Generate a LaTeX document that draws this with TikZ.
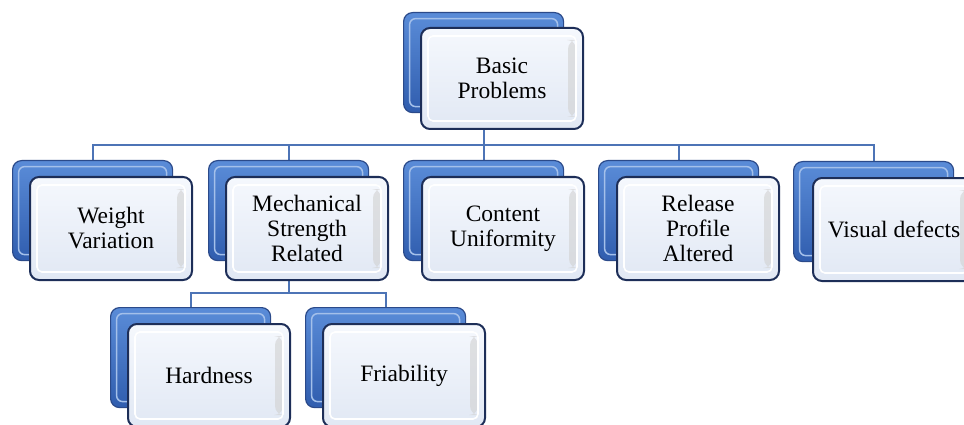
\documentclass[tikz,border=0pt]{standalone}
\usepackage{fontspec}
\setmainfont{Liberation Serif}
\usetikzlibrary{calc}
\pgfdeclarelayer{bg}
\pgfsetlayers{bg,main}
\definecolor{backtop}{HTML}{5A8CD8}
\definecolor{backbot}{HTML}{305DAE}
\definecolor{backline}{HTML}{2B4A8A}
\definecolor{fronttop}{HTML}{F5F8FD}
\definecolor{frontbot}{HTML}{E1E8F4}
\definecolor{frontline}{HTML}{1D2E58}
\definecolor{wire}{HTML}{4D74B6}
\begin{document}
\begin{tikzpicture}[x=1pt,y=-1pt,
  backbox/.style={anchor=north west, minimum width=160pt, minimum height=100pt,
    inner sep=0pt, rounded corners=9pt, draw=backline, line width=1.2pt,
    top color=backtop, bottom color=backbot,
    path picture={\draw[color=white!45!backtop, line width=1.5pt, rounded corners=6pt]
      ([shift={(6pt,-6pt)}]path picture bounding box.north west) rectangle
      ([shift={(-6pt,6pt)}]path picture bounding box.south east);}},
  frontbox/.style={anchor=north west, minimum width=162pt, minimum height=103pt,
    inner sep=2pt, rounded corners=9pt, draw=frontline, line width=2pt,
    top color=fronttop, bottom color=frontbot, align=center,
    font=\fontsize{23.5pt}{25pt}\selectfont,
    path picture={
      \fill[color=black!18, opacity=0.6]
        ([shift={(-15pt,-12pt)}]path picture bounding box.north east) rectangle
        ([shift={(-7pt,12pt)}]path picture bounding box.south east);
      \draw[color=white, line width=1.6pt, rounded corners=5pt]
        ([shift={(7pt,-8pt)}]path picture bounding box.north west) rectangle
        ([shift={(-7pt,8pt)}]path picture bounding box.south east);}},
  wireline/.style={draw=wire, line width=2pt}
]
\useasboundingbox (0,0) rectangle (964,425);

% top
\node[backbox] (topb) at (403,12) {};
\node[frontbox, minimum height=101pt] (top) at (420,27) {Basic\\Problems};

% row 1
\node[backbox] (wb) at (12,160) {};
\node[frontbox] (w) at (29,176) {Weight\\Variation};
\node[backbox] (mb) at (208,160) {};
\node[frontbox] (m) at (225,176) {Mechanical\\Strength\\Related};
\node[backbox] (cb) at (403,160) {};
\node[frontbox] (c) at (421,176) {Content\\Uniformity};
\node[backbox] (rb) at (598,160) {};
\node[frontbox] (r) at (616,176) {Release\\Profile\\Altered};
\node[backbox] (vb) at (793,161) {};
\node[frontbox] (v) at (812,177) {Visual defects};

% row 2
\node[backbox] (hb) at (110,307) {};
\node[frontbox] (h) at (127,323) {Hardness};
\node[backbox] (fb) at (305,307) {};
\node[frontbox] (f) at (322,323) {Friability};

\coordinate (bus1) at (483,145);
\coordinate (bus2) at (287,293);

\begin{pgfonlayer}{bg}
  \foreach \k in {wb,mb,cb,rb,vb}{
    \draw[wireline] (topb.south) -- (topb.south |- bus1) -| (\k.north);
  }
  \foreach \k in {hb,fb}{
    \draw[wireline] (mb.south) -- (mb.south |- bus2) -| (\k.north);
  }
\end{pgfonlayer}
\end{tikzpicture}
\end{document}
